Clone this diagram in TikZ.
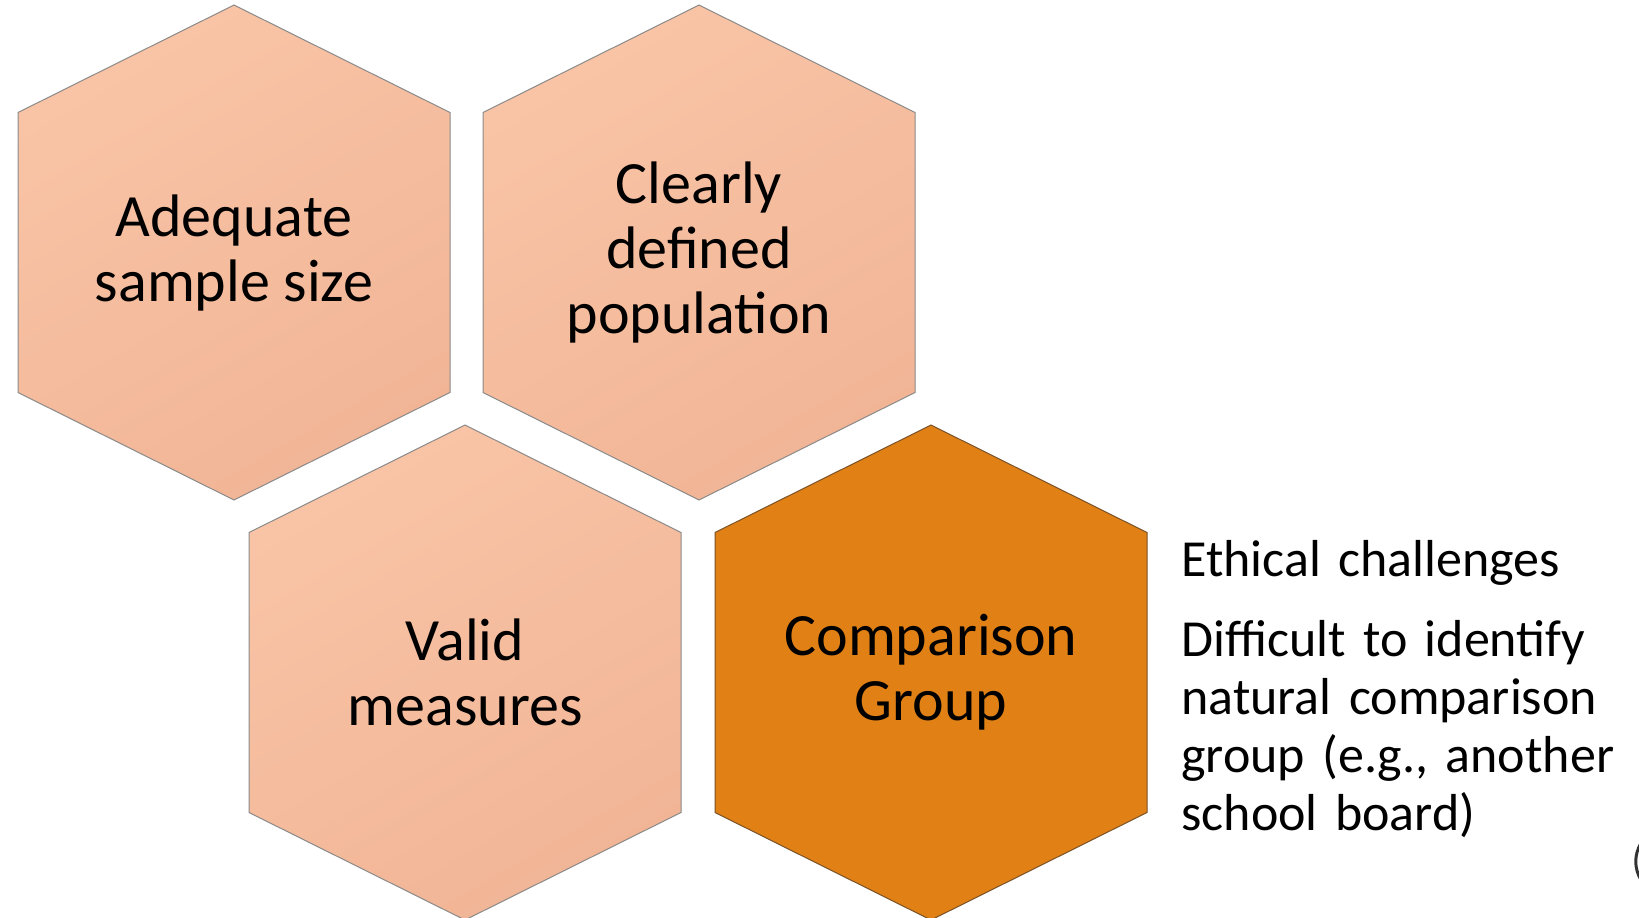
\documentclass[tikz,border=0pt]{standalone}
\usepackage{fontspec}
\setmainfont{Carlito}
\definecolor{peachhi}{HTML}{F9C4A6}
\definecolor{peachlo}{HTML}{F1B596}
\definecolor{orangefill}{HTML}{E08015}
\definecolor{hexline}{HTML}{8A8A8A}
\definecolor{orangeline}{HTML}{7A5228}
\tikzset{
  hexa/.pic={\path[pic actions] (0,-247.5) -- (216,-140) -- (216,140) -- (0,247.5) -- (-216,140) -- (-216,-140) -- cycle;},
  peach/.style={draw=hexline, line width=0.5pt, top color=peachhi, bottom color=peachlo, shading angle=30},
  hexlabel/.style={align=center, font=\fontsize{30}{32.5}\selectfont, inner sep=0pt},
  sidetext/.style={anchor=base west, align=left, text width=250pt, inner sep=0pt, font=\fontsize{26}{29}\selectfont}
}
\begin{document}
\begin{tikzpicture}[x=0.5pt,y=-0.5pt]
\useasboundingbox (0,0) rectangle (1639,917);

% hexagons
\pic[peach] at (234,252.5) {hexa};
\pic[peach] at (699,252.5) {hexa};
\pic[peach] at (465,672.5) {hexa};
\pic[draw=orangeline, line width=0.5pt, fill=orangefill] at (931,672.5) {hexa};

\node[hexlabel] (sample) at (234,252.5) {Adequate\\sample size};
\node[hexlabel] (population) at (699,252.5) {Clearly\\defined\\population};
\node[hexlabel] (measures) at (465,672.5) {Valid\\measures};
\node[hexlabel] (comparison) at (931,672.5) {Comparison\\Group};

% notes beside the orange one
\node[sidetext] (ethics) at (1181,576) {Ethical challenges};
\node[sidetext] (difficult) at (1181,656) {Difficult to identify\\natural comparison\\group (e.g., another\\school board)};

\draw[line width=1.5pt, black!80] (1641,843) .. controls (1634,855) and (1634,868) .. (1641,880);
\end{tikzpicture}
\end{document}
